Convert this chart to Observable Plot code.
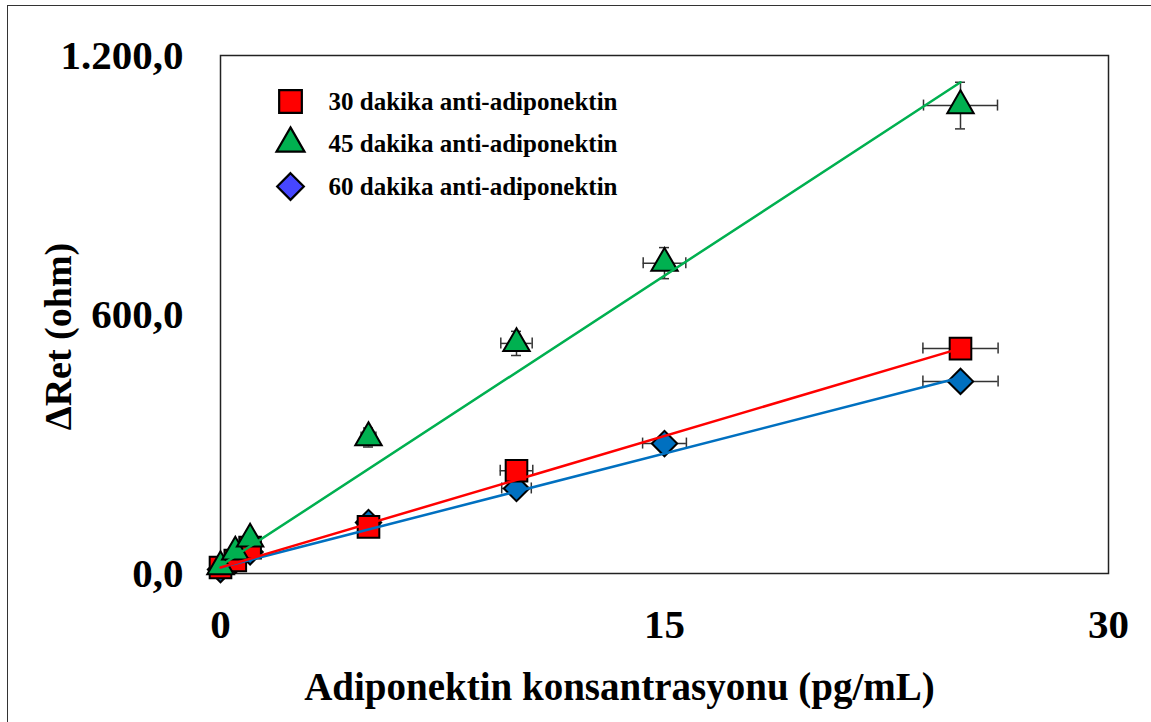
<!DOCTYPE html>
<html>
<head>
<meta charset="utf-8">
<script src="https://cdn.jsdelivr.net/npm/d3@7"></script>
<script src="https://cdn.jsdelivr.net/npm/@observablehq/plot@0.6"></script>
<style>
  html, body { margin: 0; padding: 0; background: #fff; }
  #wrap { position: relative; width: 1151px; height: 722px; overflow: hidden; }
  #border { position: absolute; left: 7px; top: 5px; width: 2000px; height: 2000px;
            border-left: 1.5px solid #333; border-top: 1.5px solid #333; }
  #chart { position: absolute; left: 0; top: 0; }
</style>
</head>
<body>
<div id="wrap"><div id="border"></div><div id="chart"></div></div>
<script>
// ---- data ----
const seriesNames = ["30 dakika anti-adiponektin", "45 dakika anti-adiponektin", "60 dakika anti-adiponektin"];
const xTicks = [0, 15, 30];
const yTicks = [0, 600, 1200];
const xLabel = "Adiponektin konsantrasyonu (pg/mL)";
const yLabel = "ΔRet (ohm)";

const conc30 = [0, 0.5, 1, 5, 10, 25];
const ret30  = [14, 30, 60, 108, 238, 521];
const xErr30 = [0, 0.03, 0.05, 0.25, 0.55, 1.27];
const yErr30 = [0, 0, 0, 6, 10, 8];

const conc45 = [0, 0.5, 1, 5, 10, 15, 25];
const ret45  = [16, 50, 80, 315, 533, 719, 1084];
const xErr45 = [0, 0.03, 0.05, 0.25, 0.53, 0.72, 1.25];
const yErr45 = [0, 0, 0, 22, 28, 36, 54];

const conc60 = [0, 0.5, 1, 5, 10, 15, 25];
const ret60  = [9, 30, 50, 118, 197, 301, 445];
const xErr60 = [0, 0.03, 0.05, 0.25, 0.5, 0.74, 1.27];
const yErr60 = [0, 0, 0, 5, 8, 8, 8];

// linear trendline coefficients (slope, intercept) per series
const trendSlope = [20.3, 44.8, 17.6];
const trendIntercept = [14, 18, 14];

// ---- build tables ----
const concs = [conc30, conc45, conc60];
const rets = [ret30, ret45, ret60];
const xErrs = [xErr30, xErr45, xErr60];
const yErrs = [yErr30, yErr45, yErr60];
const rows = [];
seriesNames.forEach((s, k) => {
  concs[k].forEach((x, i) => rows.push({series: s, k, x, y: rets[k][i], xe: xErrs[k][i], ye: yErrs[k][i]}));
});
const trend = [];
seriesNames.forEach((s, k) => {
  const xs = concs[k];
  const x0 = d3.min(xs), x1 = d3.max(xs);
  trend.push({series: s, k, x: x0, y: trendIntercept[k] + trendSlope[k] * x0});
  trend.push({series: s, k, x: x1, y: trendIntercept[k] + trendSlope[k] * x1});
});

const markerFill = ["#FF0000", "#00B050", "#0070C0"];
const legendFill = ["#FF0000", "#00B050", "#4646FF"];
const lineColor = ["#FF0000", "#00B050", "#0070C0"];
const symbols = ["square", "triangle", "diamond2"];
const radii = [12.2, 9.8, 11.4];

const trFmt = d3.formatLocale({decimal: ",", thousands: ".", grouping: [3], currency: ["", ""]}).format(",.1f");

const xeRows = rows.filter(d => d.xe > 0);
const yeRows = rows.filter(d => d.ye > 0);
const errStyle = {stroke: "#333", strokeWidth: 1.5};
const font = "'Liberation Serif', 'Times New Roman', serif";

const drawOrder = [2, 0, 1]; // blue, red, green
const lineOrder = [2, 1, 0];

const marks = [
  Plot.frame({stroke: "#222", strokeWidth: 1.5}),
  // error bars
  Plot.ruleY(xeRows, {y: "y", x1: d => d.x - d.xe, x2: d => d.x + d.xe, ...errStyle}),
  Plot.ruleX(xeRows, {x: d => d.x - d.xe, y1: "y", y2: "y", insetTop: -5.5, insetBottom: -5.5, ...errStyle}),
  Plot.ruleX(xeRows, {x: d => d.x + d.xe, y1: "y", y2: "y", insetTop: -5.5, insetBottom: -5.5, ...errStyle}),
  Plot.ruleX(yeRows, {x: "x", y1: d => d.y - d.ye, y2: d => d.y + d.ye, ...errStyle}),
  Plot.ruleY(yeRows, {y: d => d.y - d.ye, x1: "x", x2: "x", insetLeft: -5, insetRight: -5, ...errStyle}),
  Plot.ruleY(yeRows, {y: d => d.y + d.ye, x1: "x", x2: "x", insetLeft: -5, insetRight: -5, ...errStyle}),
  // markers
  ...drawOrder.map(k => Plot.dot(rows.filter(d => d.k === k), {
    x: "x", y: "y", symbol: () => symbols[k], r: radii[k],
    fill: markerFill[k], stroke: "#000", strokeWidth: 2
  })),
  // trendlines
  ...lineOrder.map(k => Plot.line(trend.filter(d => d.k === k), {
    x: "x", y: "y", stroke: lineColor[k], strokeWidth: 2.5
  })),
  // legend
  ...seriesNames.map((s, k) => Plot.dot([s], {
    frameAnchor: "top-left", dx: 70, dy: [46, 88, 131][k],
    symbol: () => symbols[k], r: radii[k] + 0.6, fill: legendFill[k], stroke: "#000", strokeWidth: 2.2
  })),
  ...seriesNames.map((s, k) => Plot.text([s], {
    frameAnchor: "top-left", dx: 108, dy: [46, 88, 131][k], text: d => d,
    textAnchor: "start", lineAnchor: "middle", fontSize: 25, fontWeight: "bold", fill: "#000"
  })),
  // axes
  Plot.axisX({ticks: xTicks, tickSize: 0, tickPadding: 35, tickFormat: d => String(d), label: null}),
  Plot.axisY({ticks: yTicks, tickSize: 0, tickPadding: 37, tickFormat: trFmt, label: null}),
  Plot.text([xLabel], {frameAnchor: "bottom", dx: -45, dy: 99, text: d => d, textAnchor: "middle", lineAnchor: "top",
    fontSize: 39, fontWeight: "bold", fill: "#000"}),
  Plot.text([yLabel], {frameAnchor: "left", dx: -162, dy: 22, rotate: -90, text: d => d,
    textAnchor: "middle", lineAnchor: "middle", fontSize: 38, fontWeight: "bold", fill: "#000"})
];

const chart = Plot.plot({
  width: 1151,
  height: 722,
  marginLeft: 220,
  marginRight: 43,
  marginTop: 55,
  marginBottom: 149,
  x: {domain: [0, 30]},
  y: {domain: [0, 1200]},
  style: {fontFamily: font, fontSize: "41px", fontWeight: "bold", color: "#000", background: "transparent", overflow: "visible"},
  marks
});
document.getElementById("chart").appendChild(chart);
</script>
</body>
</html>
